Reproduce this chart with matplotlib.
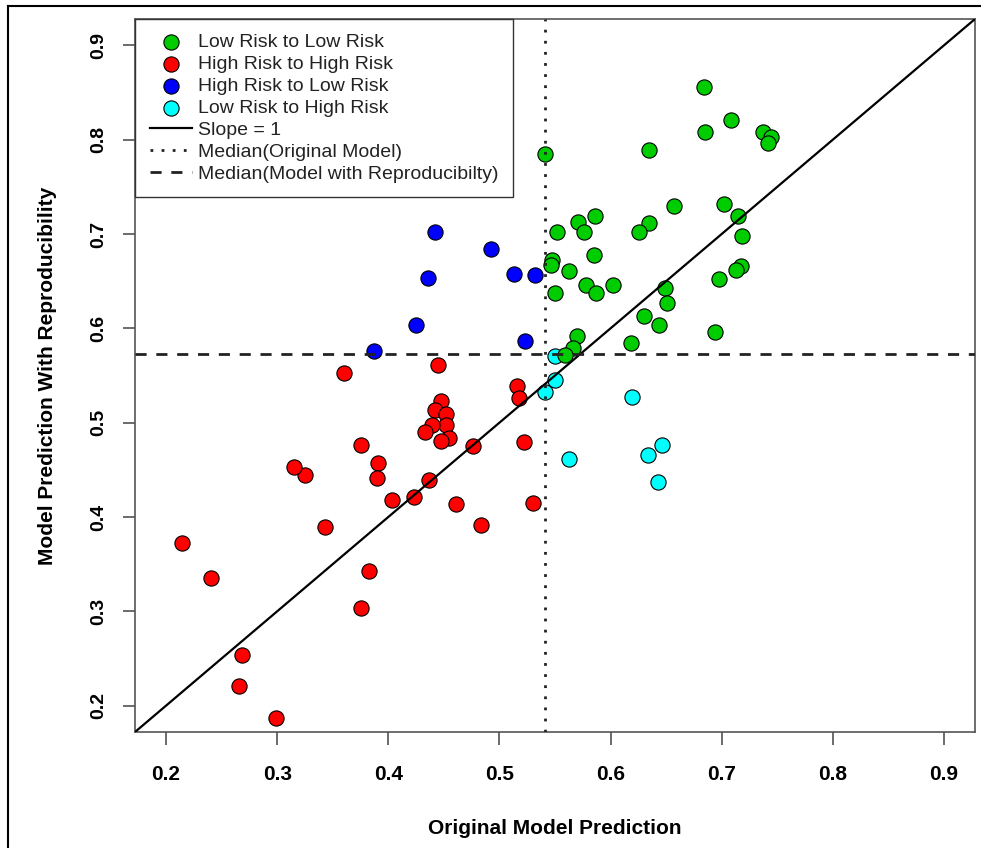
import matplotlib
matplotlib.use("Agg")
import matplotlib.pyplot as plt
from matplotlib.lines import Line2D

plt.rcParams['font.family'] = ['Liberation Sans', 'DejaVu Sans']

# points, (original model, model with reproducibility)
green_x = [0.684, 0.708, 0.685, 0.737, 0.744, 0.742, 0.635, 0.541, 0.657, 0.702,
           0.715, 0.718, 0.586, 0.571, 0.576, 0.552, 0.635, 0.626, 0.585, 0.547,
           0.546, 0.563, 0.717, 0.713, 0.698, 0.602, 0.578, 0.587, 0.550, 0.649,
           0.651, 0.630, 0.644, 0.694, 0.570, 0.618, 0.566, 0.559]
green_y = [0.856, 0.821, 0.808, 0.808, 0.803, 0.797, 0.789, 0.785, 0.730, 0.732,
           0.719, 0.698, 0.719, 0.713, 0.702, 0.702, 0.712, 0.702, 0.678, 0.672,
           0.667, 0.661, 0.666, 0.662, 0.652, 0.646, 0.646, 0.638, 0.638, 0.643,
           0.627, 0.613, 0.604, 0.596, 0.592, 0.584, 0.579, 0.572]

red_x = [0.445, 0.360, 0.516, 0.518, 0.447, 0.442, 0.452, 0.452, 0.439, 0.433,
         0.455, 0.447, 0.375, 0.476, 0.522, 0.391, 0.325, 0.315, 0.390, 0.437,
         0.403, 0.423, 0.461, 0.530, 0.343, 0.483, 0.214, 0.240, 0.383, 0.375,
         0.268, 0.266, 0.299]
red_y = [0.561, 0.553, 0.539, 0.526, 0.523, 0.513, 0.509, 0.498, 0.498, 0.490,
         0.484, 0.481, 0.476, 0.475, 0.480, 0.457, 0.444, 0.453, 0.441, 0.439,
         0.418, 0.421, 0.414, 0.415, 0.389, 0.392, 0.372, 0.335, 0.343, 0.304,
         0.254, 0.221, 0.187]

blue_x = [0.442, 0.492, 0.436, 0.513, 0.532, 0.425, 0.523, 0.387]
blue_y = [0.702, 0.684, 0.653, 0.658, 0.657, 0.604, 0.587, 0.576]

cyan_x = [0.550, 0.550, 0.541, 0.619, 0.646, 0.634, 0.563, 0.643]
cyan_y = [0.571, 0.545, 0.533, 0.527, 0.476, 0.466, 0.461, 0.437]

median_orig = 0.541
median_repro = 0.573
lims = (0.172, 0.928)
ticks = [0.2, 0.3, 0.4, 0.5, 0.6, 0.7, 0.8, 0.9]

fig = plt.figure(figsize=(9.81, 8.48), dpi=100)
ax = fig.add_axes([135 / 981, 1 - 732 / 848, 840 / 981, 713 / 848])

pt = dict(s=120, edgecolors='black', linewidths=0.8)
h_cyan = ax.scatter(cyan_x, cyan_y, c='#00FFFF', zorder=2, **pt)
h_red = ax.scatter(red_x, red_y, c='#FF0000', zorder=2, **pt)
h_blue = ax.scatter(blue_x, blue_y, c='#0000FF', zorder=2, **pt)
h_green = ax.scatter(green_x, green_y, c='#00CD00', zorder=2, **pt)

h_slope, = ax.plot(lims, lims, color='black', lw=1.6, zorder=3)
h_vmed = ax.axvline(median_orig, color='#222222', lw=2, ls=(0, (1, 3)), zorder=3)
h_hmed = ax.axhline(median_repro, color='#222222', lw=2, ls=(0, (4, 3.5)), zorder=3)

ax.set_xlim(lims)
ax.set_ylim(lims)
ax.set_xticks(ticks)
ax.set_yticks(ticks)
ax.set_xticklabels([f'{t:.1f}' for t in ticks], fontsize=15, fontweight='bold')
ax.set_yticklabels([f'{t:.1f}' for t in ticks], fontsize=14, fontweight='bold',
                   rotation=90, va='center')
ax.tick_params(axis='both', direction='out', length=9, width=1.1, color='#444444')
ax.tick_params(axis='x', pad=15)
ax.tick_params(axis='y', pad=11)
for sp in ax.spines.values():
    sp.set_color('#555555')
    sp.set_linewidth(1.2)

ax.set_xlabel('Original Model Prediction', fontsize=15, fontweight='bold', labelpad=25)
ax.set_ylabel('Model Prediction With Reproducibility', fontsize=15, fontweight='bold', labelpad=24)

leg = ax.legend([h_green, h_red, h_blue, h_cyan, h_slope, h_vmed, h_hmed],
                ['Low Risk to Low Risk', 'High Risk to High Risk', 'High Risk to Low Risk',
                 'Low Risk to High Risk', 'Slope = 1', 'Median(Original Model)',
                 'Median(Model with Reproducibilty)'],
                loc='upper left', bbox_to_anchor=(0, 1), borderaxespad=0,
                fontsize=14, labelspacing=0.22, borderpad=0.75, handlelength=2.2,
                handletextpad=0.3, fancybox=False, framealpha=1, edgecolor='#333333',
                scatterpoints=1)
leg.get_frame().set_linewidth(1.0)
leg.set_zorder(5)
for t in leg.get_texts():
    t.set_color('#222222')

# outer frame of the screenshot
fig.add_artist(Line2D([8 / 981, 8 / 981], [0, 1 - 6 / 848], transform=fig.transFigure,
                      color='black', lw=1.5))
fig.add_artist(Line2D([8 / 981, 1], [1 - 6 / 848, 1 - 6 / 848], transform=fig.transFigure,
                      color='black', lw=1.5))

fig.savefig('out.png', dpi=100)
